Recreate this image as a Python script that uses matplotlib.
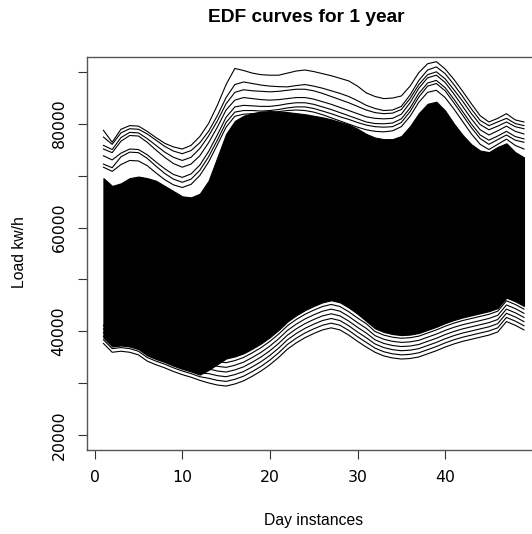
import matplotlib.pyplot as plt

# half-hour instances of a day (x axis)
instances = list(range(1, 50))

# edges of the solid black mass of curves (Load kw/h)
core_hi = [69500, 68000, 68500, 69500, 69800, 69500, 69000, 68000, 67000, 66000,
           65800, 66500, 69000, 73500, 78000, 80500, 81500, 82000, 82300, 82400,
           82300, 82200, 82000, 81800, 81500, 81200, 80800, 80300, 79800, 79000,
           78000, 77300, 77000, 77000, 77600, 79500, 82000, 83800, 84200, 82500,
           80000, 77800, 76000, 74800, 74500, 75500, 76200, 74500, 73500]
core_lo = [38800, 37100, 37300, 37100, 36600, 35400, 34700, 34100, 33400, 32800,
           32300, 31700, 32600, 33700, 34800, 35200, 35800, 36700, 37700, 38900,
           40300, 41900, 43100, 44100, 44900, 45600, 46000, 45600, 44600, 43400,
           42000, 40600, 39900, 39500, 39300, 39400, 39700, 40300, 40900, 41600,
           42200, 42700, 43100, 43500, 43900, 44500, 46500, 45800, 44900]

# the cold days that stand out above the mass
day_t1 = [78700, 76400, 78900, 79600, 79500, 78500, 77300, 76200, 75500, 75100,
          75800, 77500, 80000, 83500, 87500, 90600, 90200, 89700, 89400, 89300,
          89300, 89700, 90100, 90300, 90000, 89600, 89200, 88700, 88200, 87200,
          85900, 85200, 84800, 84900, 85300, 87200, 89800, 91500, 91900, 90500,
          88500, 86200, 83800, 81500, 80300, 81000, 81900, 80700, 80300]
day_t2 = [77400, 76000, 78200, 79000, 78900, 78000, 76800, 75600, 74700, 74200,
          74800, 76300, 78500, 81500, 85000, 87500, 88000, 87700, 87400, 87200,
          87100, 87050, 87300, 87500, 87200, 86800, 86300, 85800, 85200, 84400,
          83500, 82900, 82500, 82600, 83300, 85500, 88300, 90300, 90900, 89600,
          87500, 85200, 82800, 80600, 79600, 80300, 81000, 80000, 79600]
day_t3 = [75800, 75000, 77300, 78300, 78200, 77100, 75800, 74500, 73500, 72900,
          73500, 75200, 77600, 80500, 83800, 86000, 86500, 86300, 86200, 86100,
          86200, 86400, 86600, 86600, 86300, 85800, 85200, 84600, 84000, 83300,
          82600, 82100, 81900, 82000, 82700, 84800, 87500, 89400, 89950, 88600,
          86500, 84300, 81900, 79800, 78800, 79500, 80300, 79400, 79000]
day_t4 = [75100, 74400, 76600, 77700, 77600, 76400, 74900, 73500, 72300, 71600,
          72200, 73800, 76300, 79300, 82600, 84500, 85000, 84800, 84600, 84500,
          84600, 84800, 85000, 85000, 84700, 84200, 83700, 83100, 82500, 81900,
          81300, 81000, 80900, 81000, 81800, 84000, 86800, 88800, 89300, 87900,
          85700, 83300, 80900, 78800, 77800, 78600, 79500, 78500, 78000]
day_t5 = [73800, 73000, 74300, 75100, 75000, 74000, 72600, 71300, 70200, 69650,
          70300, 72000, 74600, 77800, 81200, 83200, 83500, 83400, 83300, 83300,
          83500, 83800, 84000, 84000, 83700, 83200, 82700, 82100, 81500, 80900,
          80300, 80000, 79950, 80100, 80900, 83000, 85800, 87800, 88300, 86900,
          84700, 82300, 79900, 77800, 76800, 77600, 78500, 77500, 77050]
day_t6 = [72200, 71500, 73600, 74500, 74400, 73300, 71800, 70400, 69300, 68700,
          69300, 71000, 73600, 76800, 80200, 82200, 82500, 82500, 82400, 82500,
          82700, 83000, 83200, 83200, 82900, 82400, 81900, 81300, 80800, 80200,
          79700, 79400, 79300, 79400, 80200, 82300, 85100, 87200, 87700, 86300,
          84000, 81600, 79200, 77100, 76000, 76900, 77800, 76800, 76400]
day_t7 = [71600, 70800, 72100, 72900, 72800, 71900, 70500, 69200, 68200, 67700,
          68300, 70000, 72600, 75900, 79300, 81400, 81800, 81900, 82000, 82100,
          82300, 82500, 82600, 82500, 82200, 81700, 81100, 80500, 79900, 79300,
          78800, 78500, 78400, 78600, 79400, 81400, 84100, 86000, 86400, 85000,
          82800, 80400, 78000, 76000, 75000, 76000, 77000, 75800, 75100]

# the warm days along the bottom of the mass
day_s1 = [37700, 36000, 36200, 36000, 35500, 34300, 33600, 33000, 32300, 31700,
          31200, 30600, 30100, 29700, 29500, 29900, 30500, 31400, 32400, 33600,
          35000, 36600, 37800, 38800, 39600, 40300, 40700, 40300, 39300, 38100,
          37000, 36000, 35300, 34900, 34700, 34800, 35100, 35700, 36300, 37000,
          37600, 38100, 38500, 38900, 39300, 39900, 41900, 41200, 40300]
day_s2 = [38400, 36700, 36900, 36700, 36200, 35000, 34300, 33700, 33000, 32400,
          31900, 31300, 31000, 30600, 30400, 30800, 31400, 32300, 33300, 34500,
          35900, 37500, 38700, 39700, 40500, 41200, 41600, 41200, 40200, 39000,
          37900, 36800, 36100, 35700, 35500, 35600, 35900, 36500, 37100, 37800,
          38400, 38900, 39300, 39700, 40100, 40700, 42700, 42000, 41100]
day_s3 = [39100, 37400, 37600, 37400, 36900, 35700, 35000, 34400, 33700, 33100,
          32600, 32000, 31900, 31500, 31300, 31700, 32300, 33200, 34200, 35400,
          36800, 38400, 39600, 40600, 41400, 42100, 42500, 42100, 41100, 39900,
          38800, 37600, 36900, 36500, 36300, 36400, 36700, 37300, 37900, 38600,
          39200, 39700, 40100, 40500, 40900, 41500, 43500, 42800, 41900]
day_s4 = [39800, 38100, 38300, 38100, 37600, 36400, 35700, 35100, 34400, 33800,
          33300, 32700, 32800, 32400, 32200, 32600, 33200, 34100, 35100, 36300,
          37700, 39300, 40500, 41500, 42300, 43000, 43400, 43000, 42000, 40800,
          39700, 38400, 37700, 37300, 37100, 37200, 37500, 38100, 38700, 39400,
          40000, 40500, 40900, 41300, 41700, 42300, 44300, 43600, 42700]
day_s5 = [40500, 38800, 39000, 38800, 38300, 37100, 36400, 35800, 35100, 34500,
          34000, 33400, 33700, 33300, 33100, 33500, 34100, 35000, 36000, 37200,
          38600, 40200, 41400, 42400, 43200, 43900, 44300, 43900, 42900, 41700,
          40600, 39200, 38500, 38100, 37900, 38000, 38300, 38900, 39500, 40200,
          40800, 41300, 41700, 42100, 42500, 43100, 45100, 44400, 43500]
day_s6 = [41200, 39500, 39700, 39500, 39000, 37800, 37100, 36500, 35800, 35200,
          34700, 34100, 34600, 34200, 34000, 34400, 35000, 35900, 36900, 38100,
          39500, 41100, 42300, 43300, 44100, 44800, 45200, 44800, 43800, 42600,
          41500, 40000, 39300, 38900, 38700, 38800, 39100, 39700, 40300, 41000,
          41600, 42100, 42500, 42900, 43300, 43900, 45900, 45200, 44300]

cold_days = [day_t1, day_t2, day_t3, day_t4, day_t5, day_t6, day_t7]
warm_days = [day_s1, day_s2, day_s3, day_s4, day_s5, day_s6]

fig = plt.figure(figsize=(5.32, 5.34), dpi=100)
ax = fig.add_axes([86.6 / 532, 84 / 534, 454.2 / 532, 393 / 534])
plt.rcParams['font.family'] = 'Liberation Sans'

# dense part of the year, drawn as one solid block
ax.fill_between(instances, core_lo, core_hi, color='black', lw=0.8)
for day in cold_days + warm_days:
    ax.plot(instances, day, color='black', lw=0.8)

ax.set_xlim(-0.92, 50.92)
ax.set_ylim(17200, 92800)
ax.set_xticks([0, 10, 20, 30, 40])
yvals = list(range(20000, 90001, 10000))
ax.set_yticks(yvals)
ax.set_yticklabels([str(v) if v % 20000 == 0 else '' for v in yvals], rotation=90, va='center')
ax.tick_params(direction='out', length=6.5, width=0.8, color='#333333', labelsize=11.3, pad=8)
for side in ax.spines.values():
    side.set_color('#555555')
    side.set_linewidth(1.0)

fig.text(306.5 / 532, 1 - 17.5 / 534, 'EDF curves for 1 year', ha='center', va='center',
         fontsize=13.8, fontweight='bold', family='Liberation Sans')
fig.text(313.7 / 532, 1 - 521 / 534, 'Day instances', ha='center', va='center',
         fontsize=11.3, family='Liberation Sans')
fig.text(19 / 532, 1 - 252 / 534, 'Load kw/h', ha='center', va='center', rotation=90,
         fontsize=11.3, family='Liberation Sans')

plt.savefig('out.png', dpi=100)
plt.close()
